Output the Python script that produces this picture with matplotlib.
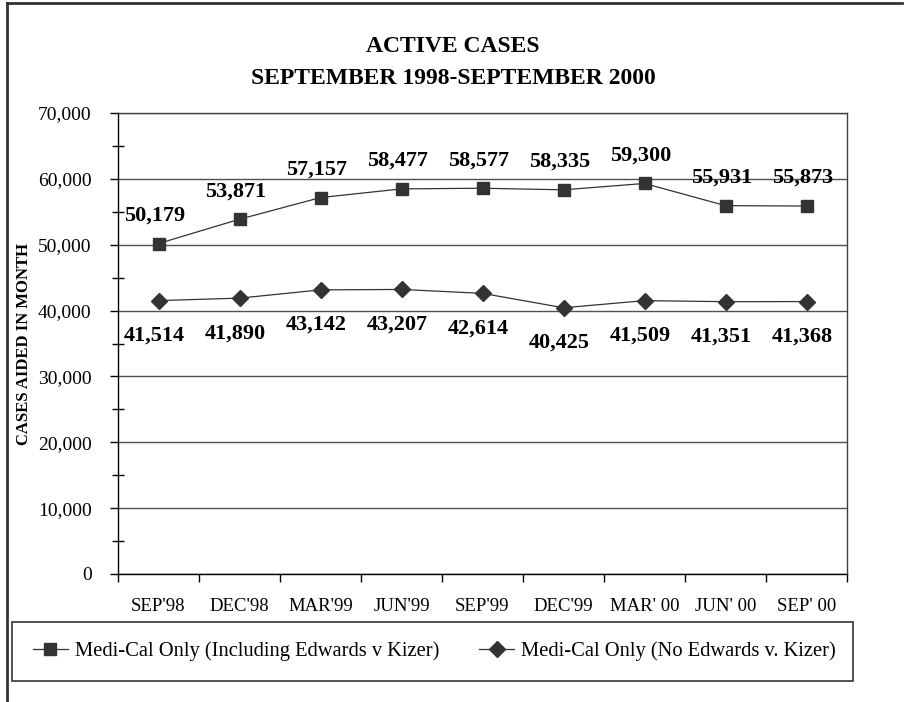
import matplotlib.pyplot as plt
from matplotlib.lines import Line2D
from matplotlib.patches import Rectangle
from matplotlib.ticker import MultipleLocator, FuncFormatter

plt.rcParams['font.family'] = ['Liberation Serif', 'DejaVu Serif']

months = ["SEP'98", "DEC'98", "MAR'99", "JUN'99", "SEP'99",
          "DEC'99", "MAR' 00", "JUN' 00", "SEP' 00"]
with_ek = [50179, 53871, 57157, 58477, 58577, 58335, 59300, 55931, 55873]
no_ek = [41514, 41890, 43142, 43207, 42614, 40425, 41509, 41351, 41368]

label_with = 'Medi-Cal Only (Including Edwards v Kizer)'
label_no = 'Medi-Cal Only (No Edwards v. Kizer)'

W, H = 907, 702
dark = '#333333'
fig = plt.figure(figsize=(W / 100, H / 100), dpi=100)
ax = fig.add_axes([118 / W, 1 - 574 / H, (847 - 118) / W, (574 - 113) / H])

x = [i + 0.5 for i in range(len(months))]
ax.plot(x, with_ek, color=dark, lw=0.9, marker='s', ms=8.7,
        mfc=dark, mec=dark, label=label_with, zorder=3)
ax.plot(x, no_ek, color=dark, lw=0.9, marker='D', ms=7.7,
        mfc=dark, mec=dark, label=label_no, zorder=3)

for xi, v in zip(x, with_ek):
    ax.annotate(f'{v:,}', (xi, v), xytext=(-4, 28), textcoords='offset pixels',
                ha='center', va='center', fontsize=16, fontweight='bold')
for xi, v in zip(x, no_ek):
    ax.annotate(f'{v:,}', (xi, v), xytext=(-4, -35), textcoords='offset pixels',
                ha='center', va='center', fontsize=16, fontweight='bold')

ax.set_xlim(0, len(months))
ax.set_ylim(0, 70000)
ax.yaxis.set_major_locator(MultipleLocator(10000))
ax.yaxis.set_minor_locator(MultipleLocator(5000))
ax.yaxis.set_major_formatter(FuncFormatter(lambda v, p: f'{int(v):,}'))
ax.tick_params(axis='y', which='major', direction='out', length=6, width=1,
               labelsize=14, pad=13)
ax.tick_params(axis='y', which='minor', direction='inout', length=8, width=1)

ax.set_xticks(range(len(months) + 1))
ax.set_xticklabels([])
ax.set_xticks(x, minor=True)
ax.set_xticklabels(months, minor=True)
ax.tick_params(axis='x', which='major', direction='out', length=6, width=1)
ax.tick_params(axis='x', which='minor', length=0, labelsize=13.5, pad=17)

ax.grid(axis='y', which='major', color='#505050', lw=1)
ax.set_axisbelow(True)
for s in ax.spines.values():
    s.set_color('#404040')
    s.set_linewidth(1)
ax.spines['left'].set_color('black')
ax.spines['bottom'].set_color('black')

fig.text(24 / W, 1 - 344 / H, 'CASES AIDED IN MONTH', rotation=90,
         ha='center', va='center', fontsize=12, fontweight='bold')
fig.text(453 / W, 1 - 46 / H, 'ACTIVE CASES', ha='center', va='center',
         fontsize=17, fontweight='bold')
fig.text(453 / W, 1 - 79 / H, 'SEPTEMBER 1998-SEPTEMBER 2000', ha='center',
         va='center', fontsize=17, fontweight='bold')

# legend box
fig.patches.append(Rectangle((12 / W, 1 - 681 / H), (853 - 12) / W, 59 / H,
                             transform=fig.transFigure, fill=False,
                             edgecolor='#333333', lw=1.2))
fig.legend(loc='center left', bbox_to_anchor=(33 / W, 1 - 651 / H), ncol=2,
           frameon=False, fontsize=14.8, handlelength=1.7, handletextpad=0.34,
           columnspacing=1.95, borderpad=0, borderaxespad=0)

# outer frame (left and top)
fig.lines.append(Line2D([7 / W, 7 / W], [0, 1 - 3 / H], transform=fig.transFigure,
                        color='#333333', lw=2))
fig.lines.append(Line2D([7 / W, 902 / W], [1 - 3 / H, 1 - 3 / H],
                        transform=fig.transFigure, color='#333333', lw=2))

fig.savefig('out.png', dpi=100)
